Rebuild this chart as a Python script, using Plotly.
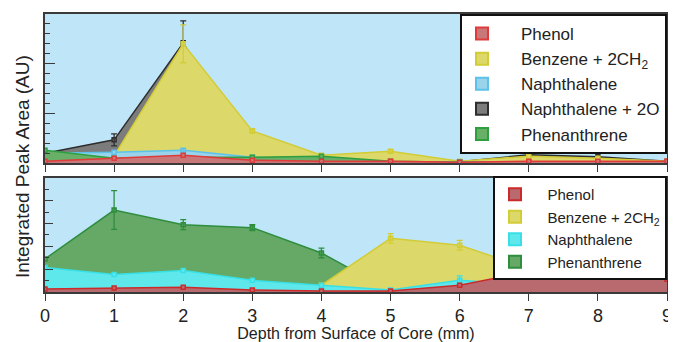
import plotly.graph_objects as go

# ---------------- data ----------------
depth = [0, 1, 2, 3, 4, 5, 6, 7, 8, 9]
depth_ticks = ["0", "1", "2", "3", "4", "5", "6", "7", "8", "9"]

# top panel
phenol_top = [0.04, 0.10, 0.16, 0.06, 0.04, 0.04, 0.02, 0.04, 0.04, 0.04]
phenol_top_err = [0, 0, 0, 0, 0, 0, 0, 0, 0, 0]
benzene_top = [0.02, 0.15, 2.40, 0.65, 0.16, 0.24, 0.04, 0.14, 0.10, 0.04]
benzene_top_err = [0, 0, 0.38, 0.04, 0, 0.03, 0, 0, 0, 0]
naph_top = [0.20, 0.22, 0.26, 0.12, 0.06, 0.03, 0.03, 0.03, 0.03, 0.03]
naph_top_err = [0, 0, 0.03, 0, 0, 0, 0, 0, 0, 0]
naph2o_top = [0.20, 0.47, 2.42, 0.10, 0.05, 0.03, 0.03, 0.17, 0.13, 0.04]
naph2o_top_err = [0, 0.12, 0.44, 0, 0, 0, 0, 0.05, 0, 0]
phen_top = [0.26, 0.10, 0.12, 0.12, 0.14, 0.04, 0.02, 0.02, 0.02, 0.02]
phen_top_err = [0, 0, 0, 0, 0, 0, 0, 0, 0, 0]

# bottom panel
phenol_bot = [0.13, 0.17, 0.21, 0.09, 0.04, 0.04, 0.30, 0.90, 1.07, 0.56]
phenol_bot_err = [0, 0, 0, 0, 0, 0, 0, 0.17, 0.28, 0]
benzene_bot = [0.05, 0.05, 0.05, 0.05, 0.30, 2.35, 2.05, 1.03, 0.50, 0.30]
benzene_bot_err = [0, 0, 0, 0, 0, 0.21, 0.21, 0, 0, 0]
naph_bot = [1.07, 0.77, 0.94, 0.51, 0.30, 0.09, 0.51, 0.30, 0.25, 0.21]
naph_bot_err = [0, 0, 0, 0, 0, 0, 0.20, 0, 0, 0]
phen_bot = [1.45, 3.59, 2.95, 2.82, 1.71, 0.05, 0.05, 0.05, 0.05, 0.05]
phen_bot_err = [0, 0.85, 0.22, 0.13, 0.21, 0, 0, 0, 0, 0]

FONT = "Liberation Sans, Arial, sans-serif"
BG = "#bfe6f8"

fig = go.Figure()


def add_series(name, y, err, fill, line, xa, ya, legend, rank, nbsp):
    # filled area
    fig.add_trace(go.Scatter(
        x=depth, y=y, mode="lines", fill="tozeroy", fillcolor=fill,
        line=dict(color=line, width=1.5), xaxis=xa, yaxis=ya,
        showlegend=False, hoverinfo="skip"))
    # point markers (also the legend swatch)
    fig.add_trace(go.Scatter(
        x=depth, y=y, mode="markers", name=nbsp + name,
        marker=dict(symbol="square", size=4, color=fill,
                    line=dict(color=line, width=1.5)),
        xaxis=xa, yaxis=ya, legend=legend, legendrank=rank, showlegend=True))
    # error bars where present
    idx = [i for i, e in enumerate(err) if e > 0]
    if idx:
        fig.add_trace(go.Scatter(
            x=[depth[i] for i in idx], y=[y[i] for i in idx], mode="markers",
            marker=dict(size=1, color=line, opacity=0),
            error_y=dict(type="data", array=[err[i] for i in idx],
                         color=line, thickness=1.3, width=3),
            xaxis=xa, yaxis=ya, showlegend=False, hoverinfo="skip"))


T = "\u00a0" * 4
B = "\u00a0" * 3
# top panel (drawing order: back to front)
add_series("Naphthalene + 2O", naph2o_top, naph2o_top_err, "#7c7c7c", "#2e2e2e", "x", "y", "legend", 4, T)
add_series("Benzene + 2CH<sub>2</sub>", benzene_top, benzene_top_err, "#dcd86a", "#d2cc36", "x", "y", "legend", 2, T)
add_series("Naphthalene", naph_top, naph_top_err, "#9ad3ea", "#5cc2ea", "x", "y", "legend", 3, T)
add_series("Phenanthrene", phen_top, phen_top_err, "#68b068", "#2e9e3e", "x", "y", "legend", 5, T)
add_series("Phenol", phenol_top, phenol_top_err, "#c87878", "#e03a3a", "x", "y", "legend", 1, T)

# bottom panel
add_series("Phenanthrene", phen_bot, phen_bot_err, "#66a866", "#2e8e3e", "x2", "y2", "legend2", 4, B)
add_series("Benzene + 2CH<sub>2</sub>", benzene_bot, benzene_bot_err, "#dcd86a", "#d2cc36", "x2", "y2", "legend2", 2, B)
add_series("Naphthalene", naph_bot, naph_bot_err, "#5ee8ec", "#38e0e6", "x2", "y2", "legend2", 3, B)
add_series("Phenol", phenol_bot, phenol_bot_err, "#b86a6e", "#cc2a2a", "x2", "y2", "legend2", 1, B)

axcol = "#3a3a3a"
xcommon = dict(range=[0, 9], tickvals=depth, ticktext=depth_ticks, ticks="outside",
               ticklen=7, tickwidth=1.3, tickcolor=axcol, showline=True, mirror=True,
               linecolor=axcol, linewidth=1.5, showgrid=False, zeroline=False)

# the page body has an 8px default margin, so the figure is 8px smaller each way
fig.update_layout(
    width=668, height=334,
    margin=dict(l=37, r=6, t=4, b=45),
    paper_bgcolor="white", plot_bgcolor=BG,
    font=dict(family=FONT, color="#222"),
    xaxis=dict(domain=[0, 1], anchor="y", showticklabels=False, **xcommon),
    xaxis2=dict(domain=[0, 1], anchor="y2", showticklabels=True,
                tickfont=dict(size=18, family=FONT, color="#222"),
                title=dict(text="Depth from Surface of Core (mm)",
                           font=dict(size=16, family=FONT, color="#222"), standoff=0),
                **xcommon),
    yaxis=dict(domain=[0.4632, 1], anchor="x", range=[0, 3], dtick=1, ticks="inside",
               ticklen=10, tickwidth=1.3, tickcolor=axcol, showticklabels=False,
               minor=dict(dtick=0.2, ticks="inside", ticklen=5, tickwidth=1.3, tickcolor=axcol),
               showline=True, mirror=True, linecolor=axcol, linewidth=1.5,
               showgrid=False, zeroline=False),
    yaxis2=dict(domain=[0, 0.4105], anchor="x2", range=[0, 5], dtick=1, ticks="inside",
                ticklen=8, tickwidth=1.3, tickcolor=axcol, showticklabels=False,
                minor=dict(dtick=0.5, ticks="inside", ticklen=4, tickwidth=1.3, tickcolor=axcol),
                showline=True, mirror=True, linecolor=axcol, linewidth=1.5,
                showgrid=False, zeroline=False),
    legend=dict(x=1, xanchor="right", y=1, yanchor="top", bgcolor="white",
                bordercolor="#111", borderwidth=2, itemsizing="constant",
                font=dict(size=17, family=FONT, color="#222"), traceorder="normal"),
    legend2=dict(x=1, xanchor="right", y=0.4175, yanchor="top", bgcolor="white",
                 bordercolor="#111", borderwidth=2, itemsizing="constant",
                 font=dict(size=15, family=FONT, color="#222"), traceorder="normal"),
    annotations=[dict(text="Integrated Peak Area (AU)", textangle=-90, showarrow=False,
                      xref="paper", yref="paper", x=-0.0352, y=0.45,
                      xanchor="center", yanchor="middle",
                      font=dict(size=19, family=FONT, color="#222"))],
)

fig.write_html("out.html")
